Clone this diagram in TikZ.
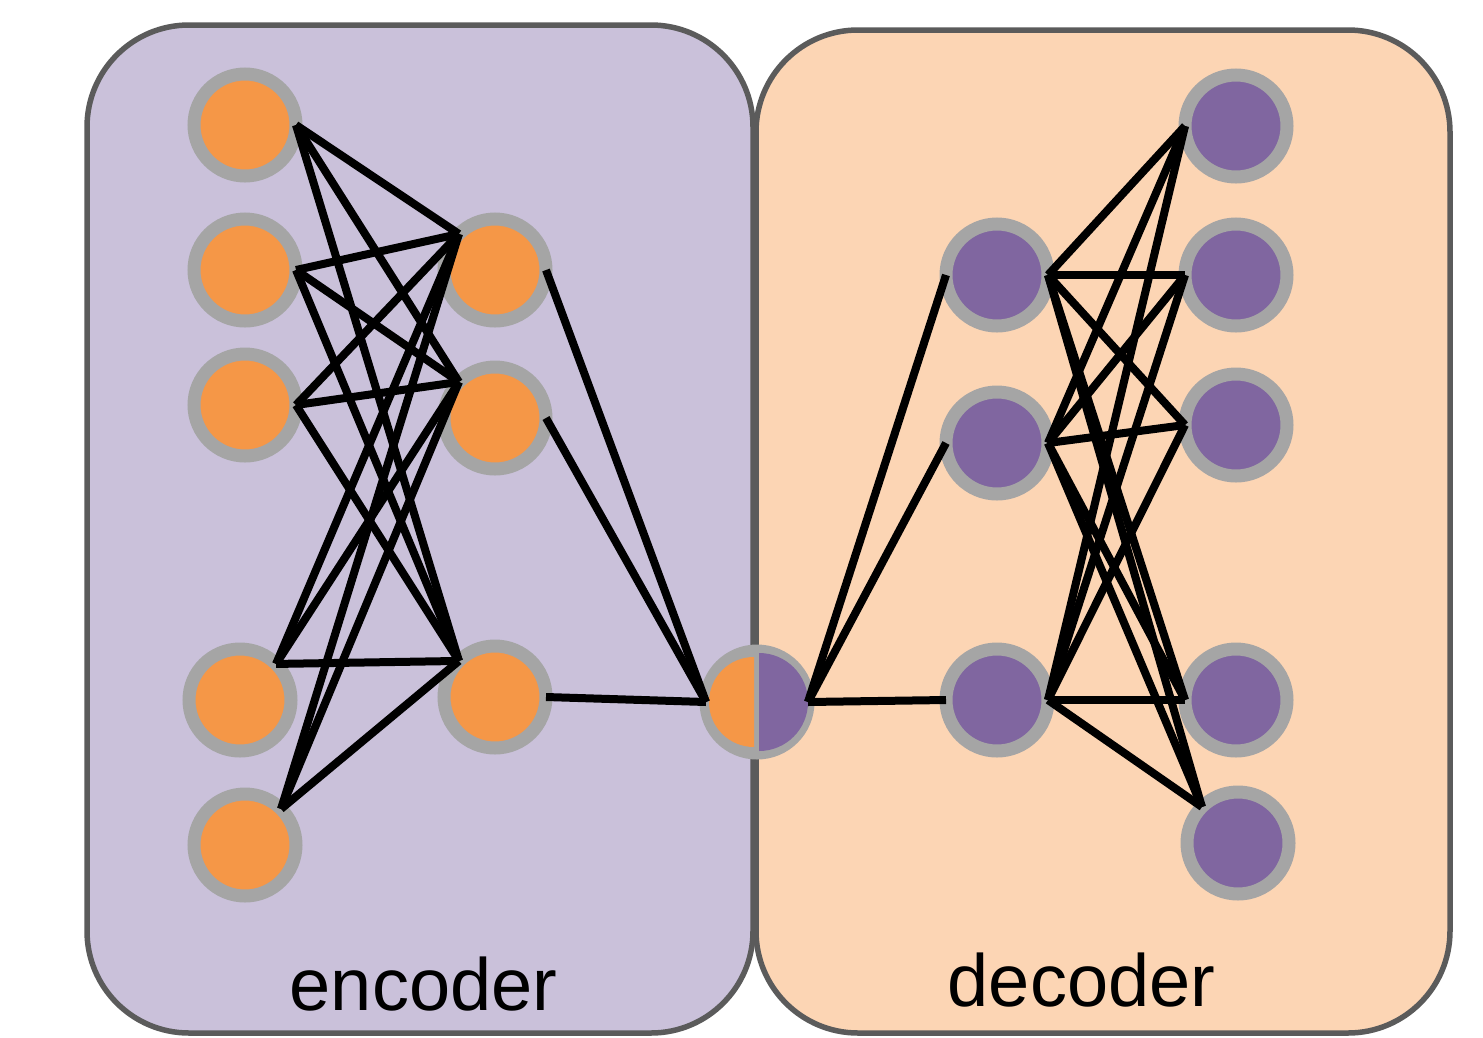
\documentclass[tikz,border=0pt]{standalone}
\usepackage{fontspec}
\setmainfont{Liberation Sans}
\definecolor{encbg}{HTML}{CAC1DA}
\definecolor{decbg}{HTML}{FCD5B4}
\definecolor{nodeorange}{HTML}{F59747}
\definecolor{nodepurple}{HTML}{8066A0}
\definecolor{ringgray}{HTML}{A5A5A5}
\definecolor{boxborder}{HTML}{5B5B5B}
\begin{document}
\begin{tikzpicture}[x=1pt,y=-1pt,
  panel/.style={draw=boxborder,line width=5.5pt,rounded corners=102pt},
  neuron/.style={circle,draw=ringgray,line width=13pt,minimum size=102pt,inner sep=0pt,outer sep=0pt},
  encneuron/.style={neuron,fill=nodeorange},
  decneuron/.style={neuron,fill=nodepurple},
  link/.style={draw=black,line width=8pt},
  lbl/.style={font=\fontsize{74}{80}\selectfont,anchor=base,inner sep=0pt}]
\useasboundingbox (0,0) rectangle (1483,1037);
% panels
\draw[panel,fill=encbg] (87,25) rectangle (753,1033);
\draw[panel,fill=decbg] (756,30) rectangle (1450,1033);
% encoder neurons
\node[encneuron] (i1) at (245,125) {};
\node[encneuron] (i2) at (245,270) {};
\node[encneuron] (i3) at (245,405) {};
\node[encneuron] (i4) at (240,700) {};
\node[encneuron] (i5) at (245,845) {};
\node[encneuron] (h1) at (495,270) {};
\node[encneuron] (h2) at (495,418) {};
\node[encneuron] (h3) at (495,697) {};
% middle (code) neuron
\node[neuron,fill=ringgray] (mid) at (757,702) {};
\fill[nodeorange] ([xshift=-3pt,yshift=45pt]mid.center) arc[start angle=90,end angle=270,radius=45pt] -- cycle;
\fill[nodepurple] ([xshift=2pt,yshift=-49pt]mid.center) arc[start angle=-90,end angle=90,radius=49pt] -- cycle;
% decoder neurons
\node[decneuron] (d1) at (997,275) {};
\node[decneuron] (d2) at (997,443) {};
\node[decneuron] (d3) at (997,700) {};
\node[decneuron] (o1) at (1236,126) {};
\node[decneuron] (o2) at (1236,275) {};
\node[decneuron] (o3) at (1236,425) {};
\node[decneuron] (o4) at (1236,700) {};
\node[decneuron] (o5) at (1238,843) {};
% encoder links
\foreach \h in {h1,h2,h3}{
  \draw[link] (i1.east) -- (\h.north west);
  \draw[link] (i2.east) -- (\h.north west);
  \draw[link] (i3.east) -- (\h.north west);
  \draw[link] (i4.north east) -- (\h.north west);
  \draw[link] (i5.north east) -- (\h.north west);
  \draw[link] (\h.east) -- (mid.west);
}
% decoder links
\foreach \d in {d1,d2,d3}{
  \draw[link] (mid.east) -- (\d.west);
  \draw[link] (\d.east) -- (o1.west);
  \draw[link] (\d.east) -- (o2.west);
  \draw[link] (\d.east) -- (o3.west);
  \draw[link] (\d.east) -- (o4.west);
  \draw[link] (\d.east) -- (o5.north west);
}
% labels
\node[lbl] (enclabel) at (423.5,1010) {encoder};
\node[lbl] (declabel) at (1081.5,1006) {decoder};
\end{tikzpicture}
\end{document}
